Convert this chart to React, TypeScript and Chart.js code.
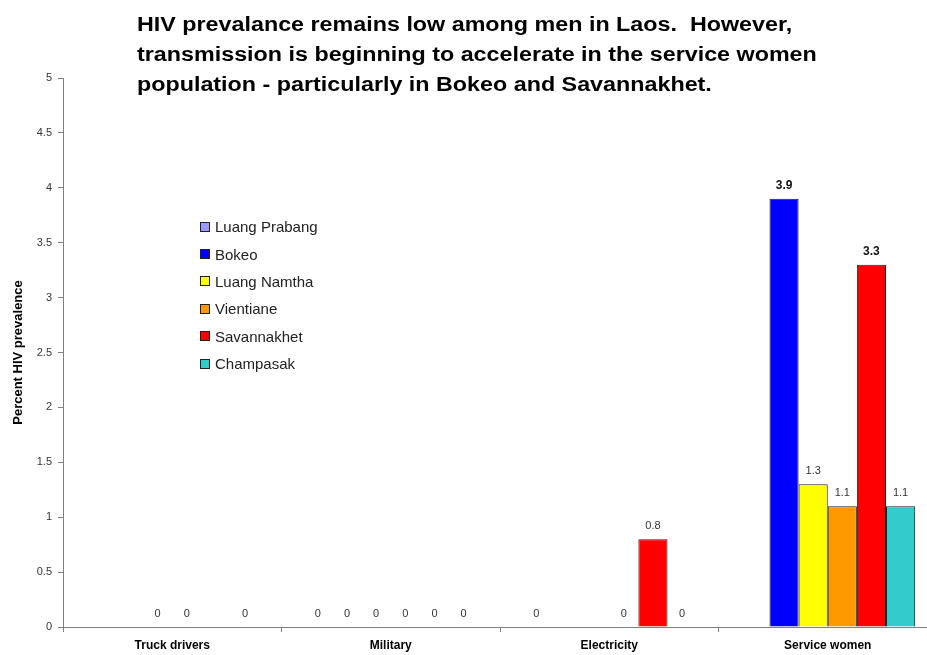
import React, { useEffect, useRef } from "react";
import { Chart, registerables } from "chart.js";
Chart.register(...registerables);

const categories = ["Truck drivers", "Military", "Electricity", "Service women"];
const seriesNames = ["Luang Prabang", "Bokeo", "Luang Namtha", "Vientiane", "Savannakhet", "Champasak"];
const luangPrabang = [null, 0, 0, null];
const bokeo = [null, 0, null, 3.9];
const luangNamtha = [0, 0, null, 1.3];
const vientiane = [0, 0, 0, 1.1];
const savannakhet = [null, 0, 0.8, 3.3];
const champasak = [0, 0, 0, 1.1];
const seriesValues = [luangPrabang, bokeo, luangNamtha, vientiane, savannakhet, champasak];
const colors = ["#9999FF", "#0000FF", "#FFFF00", "#FF9900", "#FF0000", "#33CCCC"];
const titleLines = [
  "HIV prevalance remains low among men in Laos.  However,",
  "transmission is beginning to accelerate in the service women",
  "population - particularly in Bokeo and Savannakhet.",
];
const yTitle = "Percent HIV prevalence";
const yMin = 0;
const yMax = 5;
const yStep = 0.5;

const FONT = "Arial, 'Liberation Sans', sans-serif";

const labelPlugin = {
  id: "valueLabels",
  afterDatasetsDraw(chart: any) {
    const ctx = chart.ctx;
    ctx.save();
    ctx.textAlign = "center";
    ctx.textBaseline = "middle";
    chart.data.datasets.forEach((ds: any, di: number) => {
      const meta = chart.getDatasetMeta(di);
      meta.data.forEach((el: any, i: number) => {
        const v = ds.data[i];
        if (v === null || v === undefined) return;
        const bold = v >= 3;
        ctx.font = (bold ? "bold 12px " : "11px ") + FONT;
        ctx.fillStyle = bold ? "#111" : "#333";
        ctx.fillText(String(v), el.x, el.y - 13);
      });
    });
    ctx.restore();
  },
};

export default function App() {
  const ref = useRef<HTMLCanvasElement>(null);
  useEffect(() => {
    if (!ref.current) return;
    const chart = new Chart(ref.current, {
      type: "bar",
      data: {
        labels: categories,
        datasets: seriesNames.map((n, i) => ({
          label: n,
          data: seriesValues[i],
          backgroundColor: colors[i],
          borderColor: "#222",
          borderWidth: 1,
          categoryPercentage: 0.8,
          barPercentage: 1,
        })),
      },
      options: {
        responsive: false,
        animation: false,
        layout: { padding: { top: 78, right: 8, bottom: 0, left: 0 } },
        plugins: { legend: { display: false }, title: { display: false }, tooltip: { enabled: false } },
        scales: {
          x: {
            afterFit: (s: any) => { s.height = 28; },
            grid: { drawOnChartArea: false, drawTicks: true, tickLength: 5, color: "#808080", offset: true },
            border: { display: true, color: "#808080", width: 1 },
            ticks: { color: "#000", font: { family: FONT, size: 12, weight: "bold" }, padding: 6 },
          },
          y: {
            min: yMin,
            max: yMax,
            afterFit: (s: any) => { s.width = 63; },
            grid: { drawOnChartArea: false, drawTicks: true, tickLength: 5, color: "#808080" },
            border: { display: true, color: "#808080", width: 1 },
            ticks: { stepSize: yStep, color: "#333", font: { family: FONT, size: 11 }, padding: 6, callback: (v: any) => String(v) },
            title: { display: true, text: yTitle, color: "#000", font: { family: FONT, size: 13, weight: "bold" }, padding: { top: 11, bottom: 0 } },
          },
        },
      },
      plugins: [labelPlugin],
    } as any);
    return () => chart.destroy();
  }, []);

  return (
    <div style={{ position: "fixed", left: 0, top: 0, width: 927, height: 655, overflow: "hidden", background: "#fff" }}>
      <canvas ref={ref} width={945} height={655} style={{ position: "absolute", left: 0, top: 0 }} />
      <div style={{ position: "absolute", left: 137, top: 9, fontFamily: FONT, fontWeight: "bold", fontSize: 20, lineHeight: "30px", color: "#000", whiteSpace: "pre", transform: "scaleX(1.165)", transformOrigin: "0 0" }}>
        {titleLines.map((l, i) => <div key={i}>{l}</div>)}
      </div>
      <div style={{ position: "absolute", left: 200, top: 213, fontFamily: FONT, fontSize: 15, color: "#222" }}>
        {seriesNames.map((n, i) => (
          <div key={n} style={{ display: "flex", alignItems: "center", height: 27.4 }}>
            <span style={{ display: "inline-block", width: 8, height: 8, background: colors[i], border: "1px solid #222", marginRight: 5 }} />
            <span>{n}</span>
          </div>
        ))}
      </div>
    </div>
  );
}
